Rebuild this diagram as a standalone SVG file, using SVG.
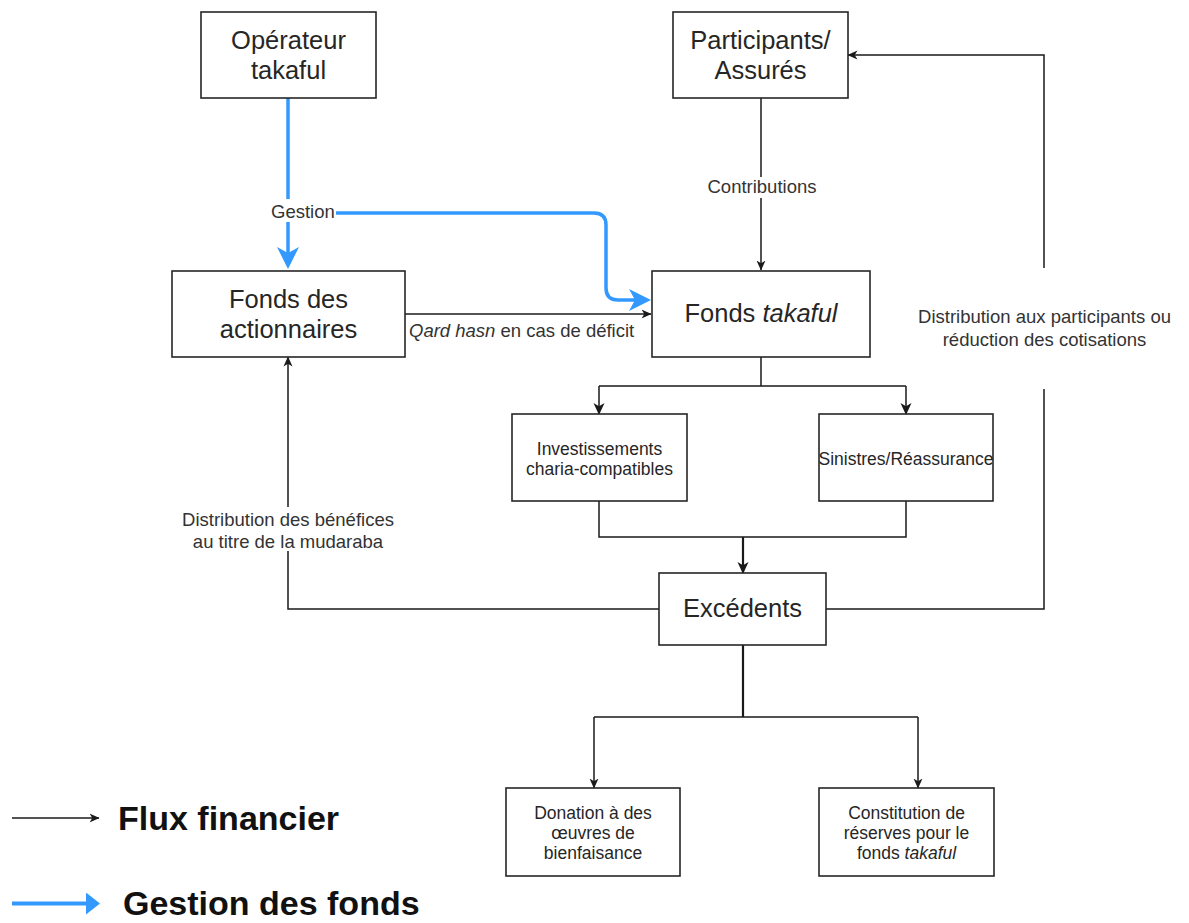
<svg xmlns="http://www.w3.org/2000/svg" width="1189" height="923" viewBox="0 0 1189 923">
<defs>
<style>
.box{fill:#fff;stroke:#262626;stroke-width:1.6}
.t{font-family:"Liberation Sans",Arial,Helvetica,sans-serif;fill:#262626;text-anchor:middle}
.big{font-size:25.5px}
.sm{font-size:17.5px}
.lbl{font-family:"Liberation Sans",Arial,Helvetica,sans-serif;fill:#333;font-size:18.5px}
.ln{fill:none;stroke:#1a1a1a;stroke-width:1.5}
.thk{stroke-width:2.2}
.blue{fill:none;stroke:#3399ff;stroke-width:3.5}
.leg{font-family:"Liberation Sans",Arial,Helvetica,sans-serif;font-weight:bold;font-size:34px;fill:#111}
</style>
<marker id="ah" viewBox="0 0 10 10" refX="9.5" refY="5" markerWidth="10" markerHeight="10" markerUnits="userSpaceOnUse" orient="auto">
<path d="M0,0.5 L10,5 L0,9.5 L2.8,5 z" fill="#1a1a1a"/>
</marker>
<marker id="ah2" viewBox="0 0 12 12" refX="11" refY="6" markerWidth="12" markerHeight="12" markerUnits="userSpaceOnUse" orient="auto">
<path d="M0,0.5 L12,6 L0,11.5 L3.2,6 z" fill="#1a1a1a"/>
</marker>
<marker id="bh" viewBox="0 0 22 22" refX="6" refY="11" markerWidth="22" markerHeight="22" markerUnits="userSpaceOnUse" orient="auto">
<path d="M0,0 L22,11 L0,22 L6,11 z" fill="#3399ff"/>
</marker>
<marker id="bl" viewBox="0 0 14 22" refX="1" refY="11" markerWidth="14" markerHeight="22" markerUnits="userSpaceOnUse" orient="auto">
<path d="M0,0 L14,11 L0,22 z" fill="#3399ff"/>
</marker>
</defs>
<rect width="1189" height="923" fill="#fff"/>

<g id="connectors">
<path class="ln" d="M761,98 V270" marker-end="url(#ah)"/>
<path class="ln" d="M405,314 H651" marker-end="url(#ah)"/>
<path class="ln" d="M761,357 V386 M599,386 H906"/>
<path class="ln" d="M599,386 V414" marker-end="url(#ah2)"/>
<path class="ln" d="M906,386 V414" marker-end="url(#ah2)"/>
<path class="ln" d="M599,501 V537 H906 V501"/>
<path class="ln thk" d="M743,537 V573" marker-end="url(#ah2)"/>
<path class="ln" d="M659,609 H288 V357" marker-end="url(#ah)"/>
<path class="ln" d="M826,609 H1044 V55 H848" marker-end="url(#ah)"/>
<path class="ln thk" d="M743,645 V717"/>
<path class="ln" d="M594,717 H918"/>
<path class="ln" d="M594,717 V788" marker-end="url(#ah)"/>
<path class="ln" d="M918,717 V788" marker-end="url(#ah)"/>
<path class="blue" d="M288,98 V253" marker-end="url(#bh)"/>
<path class="blue" d="M335,213 H594 Q606,213 606,225 V288 Q606,300 618,300 H635" marker-end="url(#bh)"/>

<rect x="700" y="177" width="124" height="21" fill="#fff"/>
<text class="lbl" x="762" y="192.5" text-anchor="middle">Contributions</text>
<rect x="268" y="199" width="68" height="23" fill="#fff"/>
<text class="lbl" x="271" y="217.5">Gestion</text>
<text class="lbl" x="409" y="337"><tspan font-style="italic">Qard hasn</tspan> en cas de déficit</text>
<rect x="172" y="507" width="232" height="44" fill="#fff"/>
<text class="lbl" x="288" y="525.5" text-anchor="middle">Distribution des bénéfices</text>
<text class="lbl" x="288" y="547.5" text-anchor="middle">au titre de la mudaraba</text>
<rect x="910" y="268" width="270" height="121" fill="#fff"/>
<text class="lbl" x="1044.5" y="323" text-anchor="middle">Distribution aux participants ou</text>
<text class="lbl" x="1044.5" y="346" text-anchor="middle">réduction des cotisations</text>
</g>

<g id="n-operateur">
<rect class="box" x="201" y="12" width="175" height="86"/>
<text class="t big" x="288.5" y="49">Opérateur</text>
<text class="t big" x="288.5" y="79">takaful</text>
</g>
<g id="n-participants">
<rect class="box" x="673" y="12" width="175" height="86"/>
<text class="t big" x="760.5" y="49">Participants/</text>
<text class="t big" x="760.5" y="79">Assurés</text>
</g>
<g id="n-actionnaires">
<rect class="box" x="172" y="271" width="233" height="86"/>
<text class="t big" x="288.5" y="308">Fonds des</text>
<text class="t big" x="288.5" y="338">actionnaires</text>
</g>
<g id="n-takaful">
<rect class="box" x="652" y="271" width="218" height="86"/>
<text class="t big" x="761" y="322">Fonds <tspan font-style="italic">takaful</tspan></text>
</g>
<g id="n-invest">
<rect class="box" x="512" y="414" width="175" height="87"/>
<text class="t sm" x="599.5" y="455">Investissements</text>
<text class="t sm" x="599.5" y="475">charia-compatibles</text>
</g>
<g id="n-sinistres">
<rect class="box" x="819" y="414" width="174" height="87"/>
<text class="t sm" x="906" y="465">Sinistres/Réassurance</text>
</g>
<g id="n-excedents">
<rect class="box" x="659" y="573" width="167" height="72"/>
<text class="t big" x="742.5" y="617">Excédents</text>
</g>
<g id="n-donation">
<rect class="box" x="506" y="788" width="174" height="88"/>
<text class="t sm" x="593" y="819">Donation à des</text>
<text class="t sm" x="593" y="839">œuvres de</text>
<text class="t sm" x="593" y="859">bienfaisance</text>
</g>
<g id="n-constitution">
<rect class="box" x="819" y="788" width="175" height="88"/>
<text class="t sm" x="906.5" y="819">Constitution de</text>
<text class="t sm" x="906.5" y="839">réserves pour le</text>
<text class="t sm" x="906.5" y="859">fonds <tspan font-style="italic">takaful</tspan></text>
</g>

<g id="legend">
<path class="ln" d="M12,818 H99" marker-end="url(#ah)"/>
<text class="leg" x="118" y="830">Flux financier</text>
<path d="M12,903.5 H87" stroke="#3399ff" stroke-width="4" fill="none" marker-end="url(#bl)"/>
<text class="leg" x="123" y="915">Gestion des fonds</text>
</g>
</svg>
